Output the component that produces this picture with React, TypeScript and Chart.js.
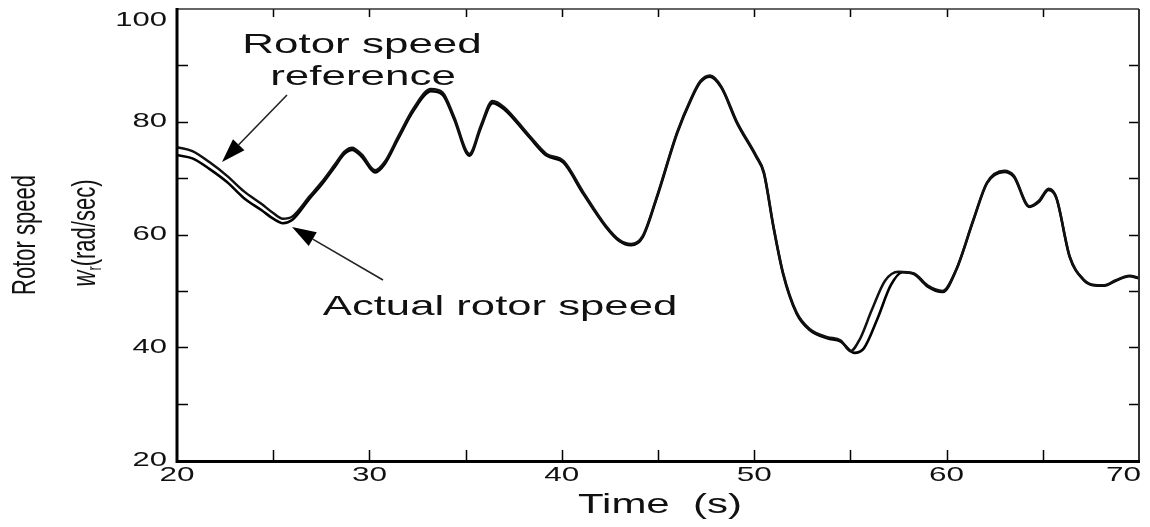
import React, { useEffect, useRef } from "react";
import { Chart, registerables } from "chart.js";

Chart.register(...registerables);

// ---- data ----
const refTime = [
  20.0, 20.8, 21.7, 22.6, 23.5, 24.4, 25.0, 25.5, 26.0, 26.9, 27.5, 28.2, 28.7, 29.1, 29.6, 30.3,
  30.8, 31.5, 32.3, 33.2, 33.8, 34.4, 35.2, 35.8, 36.4, 37.0, 38.3, 39.2, 40.1, 41.1, 42.3, 43.0,
  43.6, 44.2, 44.9, 46.0, 46.7, 47.2, 47.7, 48.3, 49.1, 50.1, 50.5, 51.0, 51.5, 52.2, 52.9, 53.8,
  54.5, 55.0, 55.5, 56.1, 56.8, 57.5, 58.3, 59.0, 59.8, 60.5, 61.4, 62.1, 63.0, 63.5, 64.3, 64.8,
  65.3, 65.7, 66.4, 67.1, 67.6, 68.2, 68.8, 69.5, 70.0,
];
const refSpeed = [
  75.5, 74.8, 72.8, 70.4, 67.6, 65.4, 63.8, 62.8, 63.2, 66.8, 69.2, 72.4, 74.7, 75.4, 74.2, 71.4,
  72.9, 77.4, 82.4, 85.8, 85.2, 80.9, 74.3, 79.4, 83.7, 82.6, 77.6, 74.3, 73.0, 67.6, 61.5, 59.0,
  58.3, 59.7, 66.3, 78.2, 84.0, 87.2, 88.2, 86.2, 80.0, 74.0, 71.1, 61.5, 53.2, 46.2, 43.2, 41.8,
  41.2, 39.3, 41.5, 46.5, 51.8, 53.4, 53.1, 51.0, 50.0, 53.8, 62.7, 69.2, 71.3, 70.4, 65.0, 66.0,
  68.1, 66.6, 56.1, 52.1, 51.1, 51.0, 51.9, 52.7, 52.3,
];

const actTime = [
  20.0, 20.8, 21.7, 22.6, 23.5, 24.4, 25.0, 25.5, 26.0, 26.9, 27.5, 28.2, 28.7, 29.1, 29.6, 30.3,
  30.8, 31.5, 32.3, 33.2, 33.8, 34.4, 35.2, 35.8, 36.4, 37.0, 38.3, 39.2, 40.1, 41.1, 42.3, 43.0,
  43.6, 44.2, 44.9, 46.0, 46.7, 47.2, 47.7, 48.3, 49.1, 50.1, 50.5, 51.0, 51.5, 52.2, 52.9, 53.8,
  54.5, 55.2, 55.7, 56.4, 57.1, 57.7, 58.3, 59.0, 59.8, 60.5, 61.4, 62.1, 63.0, 63.5, 64.3, 64.8,
  65.3, 65.7, 66.4, 67.1, 67.6, 68.2, 68.8, 69.5, 70.0,
];
const actSpeed = [
  74.1, 73.5, 71.6, 69.3, 66.4, 64.3, 62.8, 62.0, 62.6, 66.4, 68.8, 72.0, 74.3, 75.0, 73.8, 71.0,
  72.5, 77.0, 82.0, 85.4, 84.8, 80.5, 74.0, 79.0, 83.3, 82.2, 77.3, 74.0, 72.7, 67.3, 61.3, 58.8,
  58.1, 59.5, 66.1, 78.0, 83.8, 87.0, 88.0, 86.0, 79.8, 73.8, 70.9, 61.3, 53.0, 46.0, 43.0, 41.6,
  41.0, 39.0, 39.8, 45.0, 51.0, 53.3, 53.0, 50.8, 49.8, 53.7, 62.6, 69.1, 71.1, 70.2, 64.9, 65.8,
  67.9, 66.5, 56.0, 52.0, 51.0, 50.9, 51.8, 52.6, 52.2,
];

const xTickLabels = [20, 30, 40, 50, 60, 70];
const yTickLabels = [20, 40, 60, 80, 100];
const xTickMarks = [25, 30, 35, 40, 45, 50, 55, 60, 65];
const yTickMarks = [30, 40, 50, 60, 70, 80, 90];

const FONT = '"Liberation Sans", Arial, sans-serif';
const INK = "#111";

function stretchText(
  ctx: CanvasRenderingContext2D,
  text: string,
  x: number,
  y: number,
  size: number,
  sx: number,
  align: CanvasTextAlign,
  baseline: CanvasTextBaseline = "alphabetic"
) {
  ctx.save();
  ctx.translate(x, y);
  ctx.scale(sx, 1);
  ctx.font = `${size}px ${FONT}`;
  ctx.textAlign = align;
  ctx.textBaseline = baseline;
  ctx.fillStyle = INK;
  ctx.fillText(text, 0, 0);
  ctx.restore();
}

function arrow(ctx: CanvasRenderingContext2D, x1: number, y1: number, x2: number, y2: number) {
  const ang = Math.atan2(y2 - y1, x2 - x1);
  const hl = 24;
  const hw = 8;
  const bx = x2 - hl * Math.cos(ang);
  const by = y2 - hl * Math.sin(ang);
  ctx.save();
  ctx.strokeStyle = "#222";
  ctx.lineWidth = 1.6;
  ctx.beginPath();
  ctx.moveTo(x1, y1);
  ctx.lineTo(bx, by);
  ctx.stroke();
  ctx.fillStyle = "#000";
  ctx.beginPath();
  ctx.moveTo(x2, y2);
  ctx.lineTo(bx + hw * Math.sin(ang), by - hw * Math.cos(ang));
  ctx.lineTo(bx - hw * Math.sin(ang), by + hw * Math.cos(ang));
  ctx.closePath();
  ctx.fill();
  ctx.restore();
}

const decorPlugin = {
  id: "decor",
  afterDraw(chart: any) {
    const { ctx, chartArea, scales } = chart;
    const { left, right, top, bottom } = chartArea;
    const xs = scales.x;
    const ys = scales.y;
    const W = chart.width;
    ctx.save();
    // tick marks (inward, all four sides)
    ctx.strokeStyle = "#000";
    ctx.lineWidth = 1.5;
    ctx.beginPath();
    xTickMarks.forEach((v) => {
      const px = Math.round(xs.getPixelForValue(v)) + 0.5;
      ctx.moveTo(px, bottom);
      ctx.lineTo(px, bottom - 10);
      ctx.moveTo(px, top);
      ctx.lineTo(px, top + 8);
    });
    yTickMarks.forEach((v) => {
      const py = Math.round(ys.getPixelForValue(v)) + 0.5;
      ctx.moveTo(left, py);
      ctx.lineTo(left + 11, py);
      ctx.moveTo(right, py);
      ctx.lineTo(right - 10, py);
    });
    ctx.stroke();
    // frame
    ctx.lineWidth = 1.6;
    ctx.strokeStyle = "#333";
    ctx.beginPath();
    ctx.moveTo(left, top);
    ctx.lineTo(right, top);
    ctx.stroke();
    ctx.lineWidth = 2;
    ctx.beginPath();
    ctx.moveTo(right, top);
    ctx.lineTo(right, bottom);
    ctx.stroke();
    ctx.strokeStyle = "#000";
    ctx.lineWidth = 3;
    ctx.beginPath();
    ctx.moveTo(left, top - 1);
    ctx.lineTo(left, bottom + 1.5);
    ctx.lineTo(right + 1, bottom + 1.5);
    ctx.stroke();

    // tick labels
    yTickLabels.forEach((v) => {
      const py = Math.max(ys.getPixelForValue(v), top + 11);
      stretchText(ctx, String(v), left - 10, py, 20, 1.55, "right", "middle");
    });
    ctx.font = `21px ${FONT}`;
    xTickLabels.forEach((v) => {
      const w = ctx.measureText(String(v)).width * 1.5;
      const px = Math.min(xs.getPixelForValue(v), W - 9 - w / 2);
      stretchText(ctx, String(v), px, bottom + 5, 21, 1.5, "center", "top");
    });

    // axis titles
    stretchText(ctx, "Time  (s)", (left + right) / 2 + 2, 513, 28, 1.5, "center");

    // y title line 1
    ctx.save();
    ctx.translate(35, 235);
    ctx.rotate(-Math.PI / 2);
    ctx.scale(1, 1.55);
    ctx.font = `22px ${FONT}`;
    ctx.fillStyle = INK;
    ctx.textAlign = "center";
    ctx.textBaseline = "alphabetic";
    ctx.fillText("Rotor speed", 0, 0);
    ctx.restore();

    // y title line 2: w_r(rad/sec)
    ctx.save();
    ctx.translate(95, 233);
    ctx.rotate(-Math.PI / 2);
    ctx.scale(1, 1.55);
    ctx.fillStyle = INK;
    ctx.textBaseline = "alphabetic";
    ctx.textAlign = "left";
    const fW = `italic 22px ${FONT}`;
    const fR = `13px ${FONT}`;
    const fT = `22px ${FONT}`;
    ctx.font = fW;
    const wW = ctx.measureText("w").width;
    ctx.font = fR;
    const wR = ctx.measureText("r").width;
    ctx.font = fT;
    const wT = ctx.measureText("(rad/sec)").width;
    let cx = -(wW + wR + wT) / 2;
    ctx.font = fW;
    ctx.fillText("w", cx, 0);
    cx += wW;
    ctx.font = fR;
    ctx.fillText("r", cx, 4);
    cx += wR;
    ctx.font = fT;
    ctx.fillText("(rad/sec)", cx, 0);
    ctx.restore();

    // annotations
    stretchText(ctx, "Rotor speed", 362, 53, 28, 1.57, "center");
    stretchText(ctx, "reference", 363, 85, 28, 1.57, "center");
    stretchText(ctx, "Actual rotor speed", 500, 315, 28, 1.56, "center");
    arrow(ctx, 287, 95, 222, 162);
    arrow(ctx, 383, 280, 292, 227);
    ctx.restore();
  },
};

export default function App() {
  const ref = useRef<HTMLCanvasElement | null>(null);
  useEffect(() => {
    document.body.style.margin = "0";
    const canvas = ref.current;
    if (!canvas) return;
    const chart = new Chart(canvas, {
      type: "line",
      data: {
        datasets: [
          {
            label: "Rotor speed reference",
            data: refTime.map((t, i) => ({ x: t, y: refSpeed[i] })),
            borderColor: "#111",
            borderWidth: 2.5,
            pointRadius: 0,
            cubicInterpolationMode: "monotone",
            fill: false,
          },
          {
            label: "Actual rotor speed",
            data: actTime.map((t, i) => ({ x: t, y: actSpeed[i] })),
            borderColor: "#000",
            borderWidth: 2.6,
            pointRadius: 0,
            cubicInterpolationMode: "monotone",
            fill: false,
          },
        ],
      },
      options: {
        animation: false,
        responsive: false,
        maintainAspectRatio: false,
        layout: { padding: { left: 177, right: 11, top: 9, bottom: 67 } },
        plugins: { legend: { display: false }, tooltip: { enabled: false } },
        scales: {
          x: { type: "linear", min: 20, max: 70, display: false },
          y: { type: "linear", min: 20, max: 100, display: false },
        },
      },
      plugins: [decorPlugin],
    });
    return () => chart.destroy();
  }, []);
  return (
    <div style={{ position: "absolute", left: 0, top: 0, width: 1150, height: 527, background: "#fff" }}>
      <canvas ref={ref} width={1150} height={527} style={{ display: "block" }} />
    </div>
  );
}
